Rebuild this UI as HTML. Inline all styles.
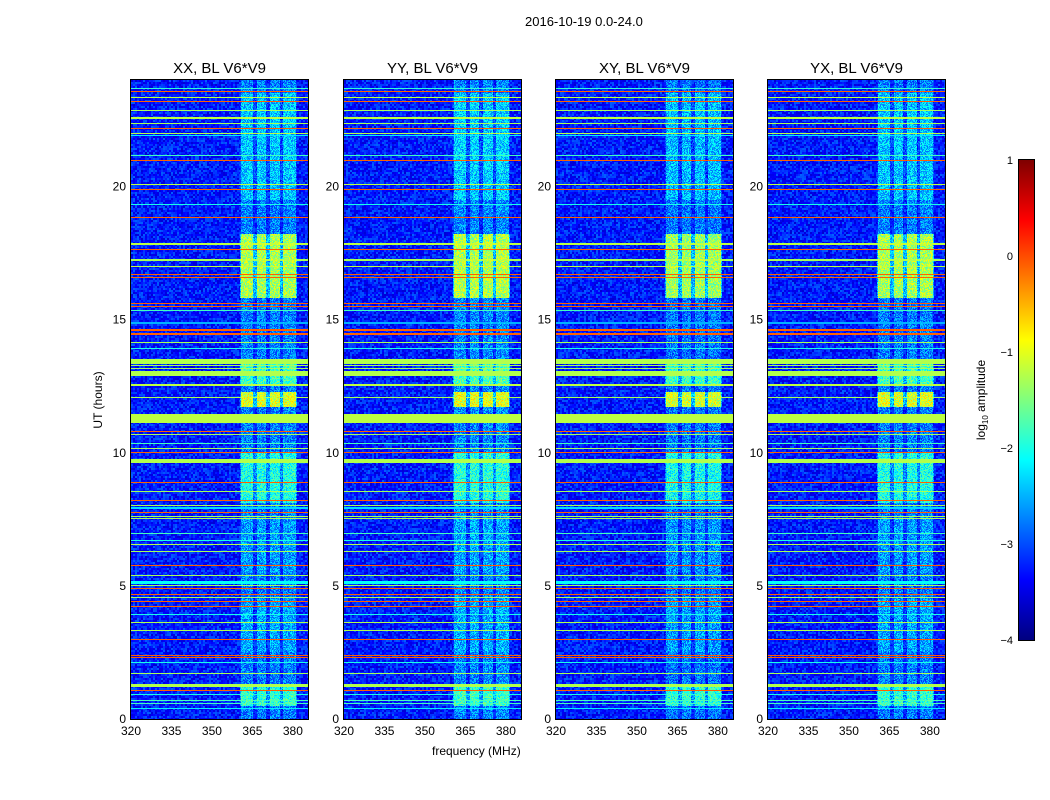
<!DOCTYPE html>
<html><head><meta charset="utf-8"><style>
body{margin:0;background:#fff;font-family:"Liberation Sans",sans-serif;}
#wrap{position:relative;width:1050px;height:800px;overflow:hidden;background:#fff}
canvas{position:absolute;image-rendering:pixelated}
.t{position:absolute;font-size:12px;color:#000;white-space:nowrap}
</style></head><body>
<div id="wrap">
<div class="t" style="left:525px;top:14px;font-size:13px">2016-10-19 0.0-24.0</div>
<div class="t" style="left:432px;top:744px;font-size:12px">frequency (MHz)</div>
<div class="t" style="left:98px;top:400px;transform:translate(-50%,-50%) rotate(-90deg)">UT (hours)</div>
<div class="t" style="left:982px;top:400px;transform:translate(-50%,-50%) rotate(-90deg)">log<sub style="font-size:8px">10</sub> amplitude</div>
<svg id="ov" width="1050" height="800" style="position:absolute;left:0;top:0"></svg>
</div>
<script>
// ---- data ----
const panelTitles = ["XX, BL V6*V9","YY, BL V6*V9","XY, BL V6*V9","YX, BL V6*V9"];
const xTicks = [320,335,350,365,380];
const yTicks = [0,5,10,15,20];
const cbTicks = [1,0,-1,-2,-3,-4];
const rfiStart = [23.67,23.54,23.31,23.19,22.85,22.52,22.34,22.17,21.98,21.88,21.13,20.94,20.04,19.87,18.82,17.82,17.62,17.22,16.97,16.68,16.56,15.59,15.47,15.34,14.82,14.59,14.44,14.13,13.33,13.24,13.14,12.89,12.49,12.05,11.10,10.77,10.67,10.33,10.15,9.98,9.62,8.86,8.52,8.17,8.01,7.88,7.73,7.60,7.52,6.95,6.52,6.26,5.74,5.36,5.08,5.01,4.89,4.67,4.55,4.41,4.22,3.60,3.30,2.97,2.38,2.30,1.70,1.22,1.04,0.69,0.57,0.38,19.3,18.5,13.9,9.3,6.7,3.9,2.1,0.9];
const rfiEnd   = [23.71,23.58,23.35,23.23,22.89,22.60,22.39,22.21,22.02,21.92,21.17,20.98,20.08,19.91,18.86,17.86,17.66,17.26,17.01,16.72,16.60,15.63,15.51,15.38,14.92,14.63,14.48,14.17,13.51,13.28,13.18,13.07,12.59,12.09,11.44,10.81,10.71,10.37,10.19,10.02,9.75,8.90,8.56,8.21,8.05,7.98,7.77,7.64,7.56,6.99,6.56,6.30,5.78,5.40,5.20,5.05,4.93,4.71,4.59,4.45,4.26,3.64,3.34,3.01,2.42,2.34,1.74,1.32,1.08,0.73,0.61,0.42,19.33,18.53,13.93,9.33,6.73,3.93,2.13,0.93];
const rfiLevel = [-1.9,-0.1,-1.2,-0.1,-1.3,-1.2,-1.3,-0.1,-1.2,-2.2,-1.8,-0.1,-1.2,-0.1,-0.1,-1.2,-0.1,-1.3,-1.2,-0.1,-0.1,-0.1,-0.1,-1.8,-2.5,-0.1,-0.1,-1.3,-1.25,-1.3,-1.3,-1.25,-1.2,-1.3,-1.2,-0.1,-1.3,-1.8,-1.3,-0.1,-1.25,-0.1,-1.3,-0.1,-1.3,-2.3,-0.1,-1.3,-1.3,-1.8,-1.25,-1.3,-0.1,-1.3,-2.1,-1.3,-0.1,-0.1,-1.3,-0.1,-0.1,-1.25,-1.25,-0.1,-0.1,-0.1,-1.3,-1.25,-0.1,-1.8,-1.8,-2.2,-2.0,-2.0,-2.0,-2.0,-2.0,-2.0,-2.0,-2.0];
const bandFreqStart = [360.9,366.6,371.5,376.5];
const bandFreqEnd   = [365.1,370.2,375.4,381.2];
const episodeStart = [0.0,15.8,11.7,8.1,0.5,19.5,2.5,5.5,12.6];
const episodeEnd   = [24.0,18.2,12.3,10.0,1.3,23.5,4.5,7.5,13.4];
const episodeLevel = [-2.75,-1.3,-1.05,-2.0,-1.9,-2.4,-2.55,-2.6,-1.8];
const panelGain = [0.0,0.05,-0.05,0.0];
// ---- geometry ----
const panelX=[131,344,556,768], PW=177, PT=80, PH=639;
const fMin=320, fMax=385.6, tMin=0, tMax=24;
const xS=(f,i)=>panelX[i]+(f-fMin)/(fMax-fMin)*PW;
const yS=h=>PT+PH-(h-tMin)/(tMax-tMin)*PH;
function jet(v){
  let x=Math.max(0,Math.min(1,(v+4)/5));
  const r=Math.max(0,Math.min(1,Math.min(4*x-1.5,-4*x+4.5)));
  const g=Math.max(0,Math.min(1,Math.min(4*x-0.5,-4*x+3.5)));
  const b=Math.max(0,Math.min(1,Math.min(4*x+0.5,-4*x+2.5)));
  return [r*255|0,g*255|0,b*255|0];
}
function hash(a,b,c){let h=(a*374761393+b*668265263+c*2147483647)|0;h=(h^(h>>>13))*1274126177|0;return ((h^(h>>>16))>>>0)/4294967296;}
const wrap=document.getElementById('wrap');
const NS='http://www.w3.org/2000/svg', ov=document.getElementById('ov');
function sv(tag,attrs){const e=document.createElementNS(NS,tag);for(const k in attrs)e.setAttribute(k,attrs[k]);ov.appendChild(e);return e;}
for(let p=0;p<4;p++){
  const cv=document.createElement('canvas');
  
  
  cv.width=PW;cv.height=PH;cv.style.left=panelX[p]+'px';cv.style.top=PT+'px';
  wrap.appendChild(cv);
  const ctx=cv.getContext('2d'),img=ctx.createImageData(PW,PH);
  for(let y=0;y<PH;y++){
    const h=tMax-(y+0.5)/PH*(tMax-tMin);
    let rowV=null;
    for(let k=0;k<rfiStart.length;k++) if(h>=rfiStart[k]&&h<=rfiEnd[k]){ if(rowV===null||rfiLevel[k]>rowV) rowV=rfiLevel[k]; }
    for(let x=0;x<PW;x++){
      const f=fMin+(x+0.5)/PW*(fMax-fMin);
      let v=-3.25+(hash(x>>1,y>>1,p)-0.5)*0.7;
      let inBand=false;
      for(let b=0;b<bandFreqStart.length;b++) if(f>=bandFreqStart[b]&&f<=bandFreqEnd[b]) inBand=true;
      if(f>=360.5&&f<=381.6){
        let bl=-3.25;
        for(let e=0;e<episodeStart.length;e++) if(h>=episodeStart[e]&&h<=episodeEnd[e]) bl=Math.max(bl,episodeLevel[e]+panelGain[p]);
        if(!inBand) bl=Math.min(bl-0.7,-2.45);
        v=Math.max(v,bl+(hash(x,y,p+7)-0.5)*0.9);
      }
      if(rowV!==null) v=Math.max(v,rowV);
      const c=jet(v),o=(y*PW+x)*4;
      img.data[o]=c[0];img.data[o+1]=c[1];img.data[o+2]=c[2];img.data[o+3]=255;
    }
  }
  ctx.putImageData(img,0,0);
  const fr=sv('rect',{x:panelX[p]-0.5,y:PT-0.5,width:PW+1,height:PH+1,fill:'none',stroke:'#000','stroke-width':1});
  
  
  xTicks.forEach(t=>{const X=xS(t,p);
    sv('line',{x1:X,x2:X,y1:PT+PH,y2:PT+PH-4,stroke:'#000'});sv('line',{x1:X,x2:X,y1:PT,y2:PT+4,stroke:'#000'});
    const tx=sv('text',{x:X,y:PT+PH+16,'text-anchor':'middle','font-size':12,'font-family':'Liberation Sans'});tx.textContent=t;
    
    });
  yTicks.forEach(t=>{const Y=yS(t);
    sv('line',{x1:panelX[p],x2:panelX[p]+4,y1:Y,y2:Y,stroke:'#000'});sv('line',{x1:panelX[p]+PW,x2:panelX[p]+PW-4,y1:Y,y2:Y,stroke:'#000'});
    const tx=sv('text',{x:panelX[p]-5,y:Y+4,'text-anchor':'end','font-size':12,'font-family':'Liberation Sans'});tx.textContent=t;
    
    });
  const ti=sv('text',{x:panelX[p]+PW/2,y:73,'text-anchor':'middle','font-size':15,'font-family':'Liberation Sans'});ti.textContent=panelTitles[p];
  
  
}
const cbX=1019,cbW=15,cbT=160,cbH=480;
const cb=document.createElement('canvas');


cb.width=cbW;cb.height=cbH;cb.style.left=cbX+'px';cb.style.top=cbT+'px';wrap.appendChild(cb);
const cc=cb.getContext('2d');
for(let y=0;y<cbH;y++){const c=jet(1-(y+0.5)/cbH*5);cc.fillStyle=`rgb(${c[0]},${c[1]},${c[2]})`;cc.fillRect(0,y,cbW,1);}
sv('rect',{x:cbX-0.5,y:cbT-0.5,width:cbW+1,height:cbH+1,fill:'none',stroke:'#000'});
cbTicks.forEach(t=>{const Y=cbT+(1-t)/5*cbH;
  sv('line',{x1:cbX,x2:cbX+4,y1:Y,y2:Y,stroke:'#000'});sv('line',{x1:cbX+cbW,x2:cbX+cbW-4,y1:Y,y2:Y,stroke:'#000'});
  const tx=sv('text',{x:1013,y:Y+4,'text-anchor':'end','font-size':11,'font-family':'Liberation Sans'});tx.textContent=t<0?'\u2212'+(-t):t;
  
  });
</script>
</body></html>
